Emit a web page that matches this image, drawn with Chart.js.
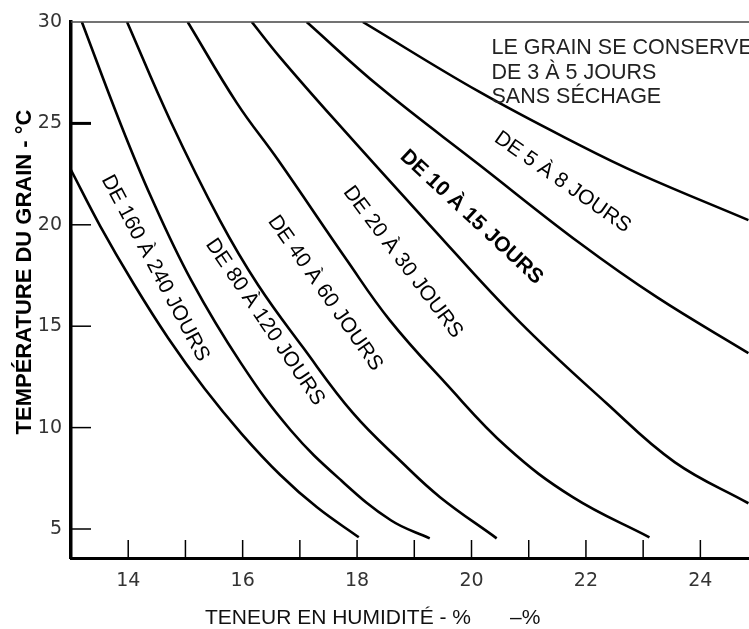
<!DOCTYPE html>
<html lang="fr">
<head>
<meta charset="UTF-8">
<title>Conservation du grain</title>
<script src="https://cdn.jsdelivr.net/npm/chart.js"></script>
<style>
  html, body { margin: 0; padding: 0; background: #fff; }
  #wrap { width: 749px; height: 629px; position: relative; }
</style>
</head>
<body>
<div id="wrap"><canvas id="grainChart"></canvas></div>
<script>
// courbes : x = teneur en humidité (%), y = température du grain (°C)
const c160x = [13.0, 13.51, 14.1, 14.7, 15.33, 15.99, 16.65, 17.3, 18.03];
const c160y = [22.7, 19.94, 17.07, 14.41, 11.94, 9.67, 7.69, 6.07, 4.59];
const c80x = [13.19, 13.84, 14.4, 15.1, 15.97, 16.84, 17.72, 18.59, 19.27];
const c80y = [30, 25.17, 21.37, 17.27, 13.18, 9.87, 7.4, 5.43, 4.54];
const c40x = [13.98, 14.73, 15.6, 16.27, 17.05, 17.93, 18.8, 19.45, 20.44];
const c40y = [30, 25.17, 20.23, 17.03, 13.97, 10.71, 8.24, 6.57, 4.54];
const c20x = [15.04, 15.9, 16.62, 17.82, 18.57, 19.53, 20.62, 21.77, 23.11];
const c20y = [30, 26.0, 23.19, 18.26, 15.3, 12.24, 9.03, 6.57, 4.59];
const c10x = [16.16, 16.65, 17.61, 19.27, 20.81, 22.36, 23.55, 24.84];
const c10y = [30, 28.27, 25.17, 19.99, 15.3, 11.2, 8.3, 6.27];
const c5x = [17.12, 18.4, 20.14, 21.89, 23.24, 24.84];
const c5y = [30, 26.79, 22.95, 19.1, 16.43, 13.67];
const c3x = [18.1, 20.14, 21.89, 22.94, 24.84];
const c3y = [30, 26.55, 23.93, 22.5, 20.23];

const xTicks = [14, 15, 16, 17, 18, 19, 20, 21, 22, 23, 24];
const yTicks = [5, 10, 15, 20, 25, 30];

// textes posés le long des courbes
const curveLabels = ['DE 160 À 240 JOURS', 'DE 80 À 120 JOURS', 'DE 40 À 60 JOURS',
                     'DE 20 À 30 JOURS', 'DE 10 À 15 JOURS', 'DE 5 À 8 JOURS'];
const noteLines = ['LE GRAIN SE CONSERVE', 'DE 3 À 5 JOURS', 'SANS SÉCHAGE'];

// position (données) et angle de chaque texte
const labelPos = [
    { x: 14.47, y: 17.86, a: 62, bold: false },
    { x: 16.39, y: 15.2, a: 56, bold: false },
    { x: 17.44, y: 16.63, a: 55, bold: false },
    { x: 18.8, y: 18.16, a: 53, bold: false },
    { x: 20.0, y: 20.38, a: 43, bold: true },
    { x: 21.59, y: 22.1, a: 35, bold: false }
];

const pts = (xs, ys) => xs.map((v, i) => ({ x: v, y: ys[i] }));
const curves = [[c160x, c160y], [c80x, c80y], [c40x, c40y], [c20x, c20y], [c10x, c10y], [c5x, c5y], [c3x, c3y]];
const names = curveLabels.concat(['3 À 5 JOURS']);

const FONT = '"Liberation Sans", Arial, sans-serif';
const TICKFONT = '"DejaVu Sans", sans-serif';

const decor = {
    id: 'decor',
    afterDraw(chart) {
        const { ctx, chartArea: a, scales: { x, y } } = chart;
        ctx.save();

        // cadre du haut
        ctx.strokeStyle = '#444';
        ctx.lineWidth = 1.5;
        ctx.beginPath();
        ctx.moveTo(a.left, a.top);
        ctx.lineTo(a.right, a.top);
        ctx.stroke();

        // graduations intérieures
        ctx.strokeStyle = '#000';
        xTicks.forEach(v => {
            const px = x.getPixelForValue(v);
            ctx.lineWidth = 1.5;
            ctx.beginPath();
            ctx.moveTo(px, a.bottom);
            ctx.lineTo(px, a.bottom - 18);
            ctx.stroke();
        });
        yTicks.filter(v => v < 30).forEach(v => {
            const py = y.getPixelForValue(v);
            ctx.lineWidth = v === 25 ? 3 : 1.5;
            ctx.beginPath();
            ctx.moveTo(a.left, py);
            ctx.lineTo(a.left + 20, py);
            ctx.stroke();
        });

        // textes des courbes
        ctx.fillStyle = '#000';
        ctx.textAlign = 'center';
        ctx.textBaseline = 'middle';
        curveLabels.forEach((t, i) => {
            const p = labelPos[i];
            ctx.save();
            ctx.translate(x.getPixelForValue(p.x), y.getPixelForValue(p.y));
            ctx.rotate(p.a * Math.PI / 180);
            ctx.font = (p.bold ? 'bold ' : '') + '21px ' + FONT;
            ctx.fillText(t, 0, 0);
            ctx.restore();
        });

        // note en haut à droite
        ctx.fillStyle = '#222';
        ctx.textAlign = 'left';
        ctx.textBaseline = 'alphabetic';
        ctx.font = '21.5px ' + FONT;
        noteLines.forEach((t, i) => {
            ctx.fillText(t, x.getPixelForValue(20.35), a.top + 32 + i * 24.5);
        });

        // titres des axes
        ctx.fillStyle = '#111';
        ctx.font = '21px ' + FONT;
        ctx.fillText('TENEUR EN HUMIDITÉ - %', 205, a.bottom + 66);
        ctx.fillText('–%', 510, a.bottom + 66);

        ctx.save();
        ctx.translate(a.left - 46, (a.top + a.bottom) / 2 - 18);
        ctx.rotate(-Math.PI / 2);
        ctx.textAlign = 'center';
        ctx.textBaseline = 'middle';
        ctx.font = 'bold 22px ' + FONT;
        ctx.fillStyle = '#000';
        ctx.fillText('TEMPÉRATURE DU GRAIN - °C', 0, 0);
        ctx.restore();

        ctx.restore();
    }
};

new Chart(document.getElementById('grainChart'), {
    type: 'line',
    data: {
        datasets: curves.map((c, i) => ({
            label: names[i],
            data: pts(c[0], c[1]),
            borderColor: '#000',
            borderWidth: 2.6,
            pointRadius: 0,
            tension: 0.4,
            fill: false
        }))
    },
    options: {
        responsive: true,
        maintainAspectRatio: false,
        animation: false,
        layout: { padding: { top: 22, right: 0, left: 0, bottom: 0 } },
        plugins: {
            legend: { display: false },
            tooltip: { enabled: false }
        },
        scales: {
            x: {
                type: 'linear',
                min: 13,
                max: 24.85,
                afterBuildTicks: s => { s.ticks = xTicks.map(v => ({ value: v })); },
                afterFit: s => { s.height = 71; },
                ticks: {
                    autoSkip: false,
                    maxRotation: 0,
                    padding: 12,
                    color: '#333',
                    font: { family: TICKFONT, size: 19 },
                    callback: v => (v % 2 === 0 ? String(v) : '')
                },
                grid: { display: false, drawTicks: false },
                border: { color: '#000', width: 3 }
            },
            y: {
                type: 'linear',
                min: 3.57,
                max: 30,
                afterBuildTicks: s => { s.ticks = yTicks.map(v => ({ value: v })); },
                afterFit: s => { s.width = 71; },
                ticks: {
                    padding: 9,
                    color: '#333',
                    font: { family: TICKFONT, size: 19 }
                },
                grid: { display: false, drawTicks: false },
                border: { color: '#000', width: 3.5 }
            }
        }
    },
    plugins: [decor]
});
</script>
</body>
</html>
